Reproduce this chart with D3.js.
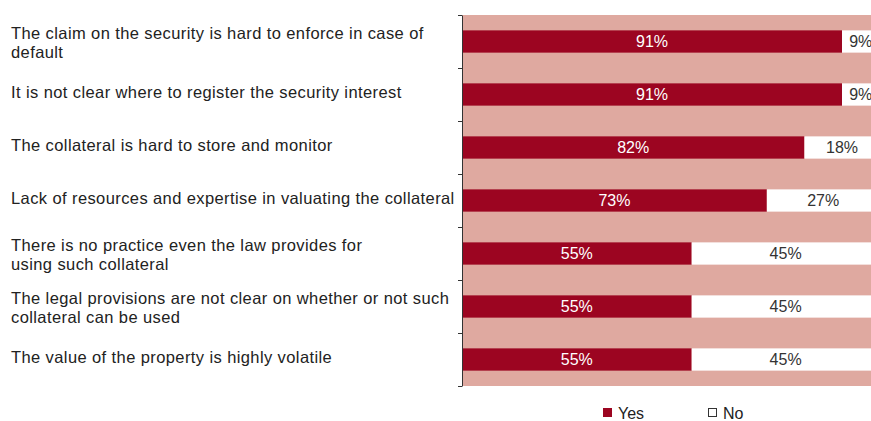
<!DOCTYPE html>
<html>
<head>
<meta charset="utf-8">
<script src="https://cdn.jsdelivr.net/npm/d3@7"></script>
<style>
  body { margin: 0; background: #fff; }
  text { font-family: "Liberation Sans", Arial, sans-serif; }
</style>
</head>
<body>
<svg id="chart" width="871" height="421"></svg>
<script>
const categories = [
    ['The claim on the security is hard to enforce in case of', 'default'],
    ['It is not clear where to register the security interest'],
    ['The collateral is hard to store and monitor'],
    ['Lack of resources and expertise in valuating the collateral'],
    ['There is no practice even the law provides for', 'using such collateral'],
    ['The legal provisions are not clear on whether or not such', 'collateral can be used'],
    ['The value of the property is highly volatile']
];
const yesValues = [91, 91, 82, 73, 55, 55, 55];
const noValues = [9, 9, 18, 27, 45, 45, 45];
const seriesNames = ['Yes', 'No'];

const RED = '#9c0521', PINK = '#dfa9a0';

const svg = d3.select('#chart');
const plotLeft = 462, plotTop = 15, plotBottom = 386;

const y = d3.scaleBand()
    .domain(d3.range(categories.length))
    .range([plotTop, plotBottom])
    .paddingInner(0.58)
    .paddingOuter(0.29);
const x = d3.scaleLinear().domain([0, 91]).range([plotLeft, 842]);

// pink plot background
svg.append('rect')
    .attr('x', plotLeft).attr('y', plotTop)
    .attr('width', 871 - plotLeft).attr('height', plotBottom - plotTop)
    .attr('fill', PINK);

const rows = svg.selectAll('g.row')
    .data(categories.map((c, i) => ({ label: c, yes: yesValues[i], no: noValues[i], i: i })))
    .join('g')
    .attr('class', 'row');

rows.append('rect')
    .attr('x', x(0))
    .attr('y', d => y(d.i))
    .attr('width', d => x(d.yes) - x(0))
    .attr('height', y.bandwidth())
    .attr('fill', RED);

rows.append('rect')
    .attr('x', d => x(d.yes))
    .attr('y', d => y(d.i))
    .attr('width', d => x(d.yes + d.no) - x(d.yes))
    .attr('height', y.bandwidth())
    .attr('fill', '#fff');

rows.append('text')
    .attr('x', d => (x(0) + x(d.yes)) / 2)
    .attr('y', d => y(d.i) + y.bandwidth() / 2)
    .attr('dy', '0.35em')
    .attr('text-anchor', 'middle')
    .attr('fill', '#fff')
    .style('font-size', '16px')
    .text(d => d.yes + '%');

rows.append('text')
    .attr('x', d => (x(d.yes) + x(d.yes + d.no)) / 2)
    .attr('y', d => y(d.i) + y.bandwidth() / 2)
    .attr('dy', '0.35em')
    .attr('text-anchor', 'middle')
    .attr('fill', '#333')
    .style('font-size', '16px')
    .text(d => d.no + '%');

// category labels, left aligned
const band = d3.scaleLinear().domain([0, categories.length]).range([plotTop, plotBottom]);
rows.each(function (d) {
    const n = d.label.length;
    const cy = band(d.i + 0.5) + (n > 1 ? 1 : -2);
    d3.select(this).selectAll('text.cat')
        .data(d.label)
        .join('text')
        .attr('class', 'cat')
        .attr('x', 11)
        .attr('y', (t, k) => cy + (k - (n - 1) / 2) * 19)
        .attr('dy', '0.35em')
        .attr('fill', '#222')
        .style('font-size', '16.5px')
        .style('letter-spacing', '0.4px')
        .text(t => t);
});

// axis with ticks at band boundaries
svg.append('g')
    .attr('transform', `translate(${plotLeft},0)`)
    .call(d3.axisLeft(band).tickValues(d3.range(categories.length + 1)).tickFormat('').tickSize(4).tickSizeOuter(0))
    .call(g => g.selectAll('line, path').attr('stroke', '#333'));

// legend
const legend = svg.append('g').attr('transform', 'translate(603,413)');
const items = legend.selectAll('g')
    .data(seriesNames)
    .join('g')
    .attr('transform', (d, i) => `translate(${i * 105},0)`);
items.append('rect')
    .attr('x', 0.5).attr('y', -4.5)
    .attr('width', 8).attr('height', 8)
    .attr('fill', (d, i) => i === 0 ? RED : '#fff')
    .attr('stroke', (d, i) => i === 0 ? RED : '#333');
items.append('text')
    .attr('x', 15).attr('y', 0).attr('dy', '0.35em')
    .attr('fill', '#222')
    .style('font-size', '16px')
    .text(d => d);
</script>
</body>
</html>
